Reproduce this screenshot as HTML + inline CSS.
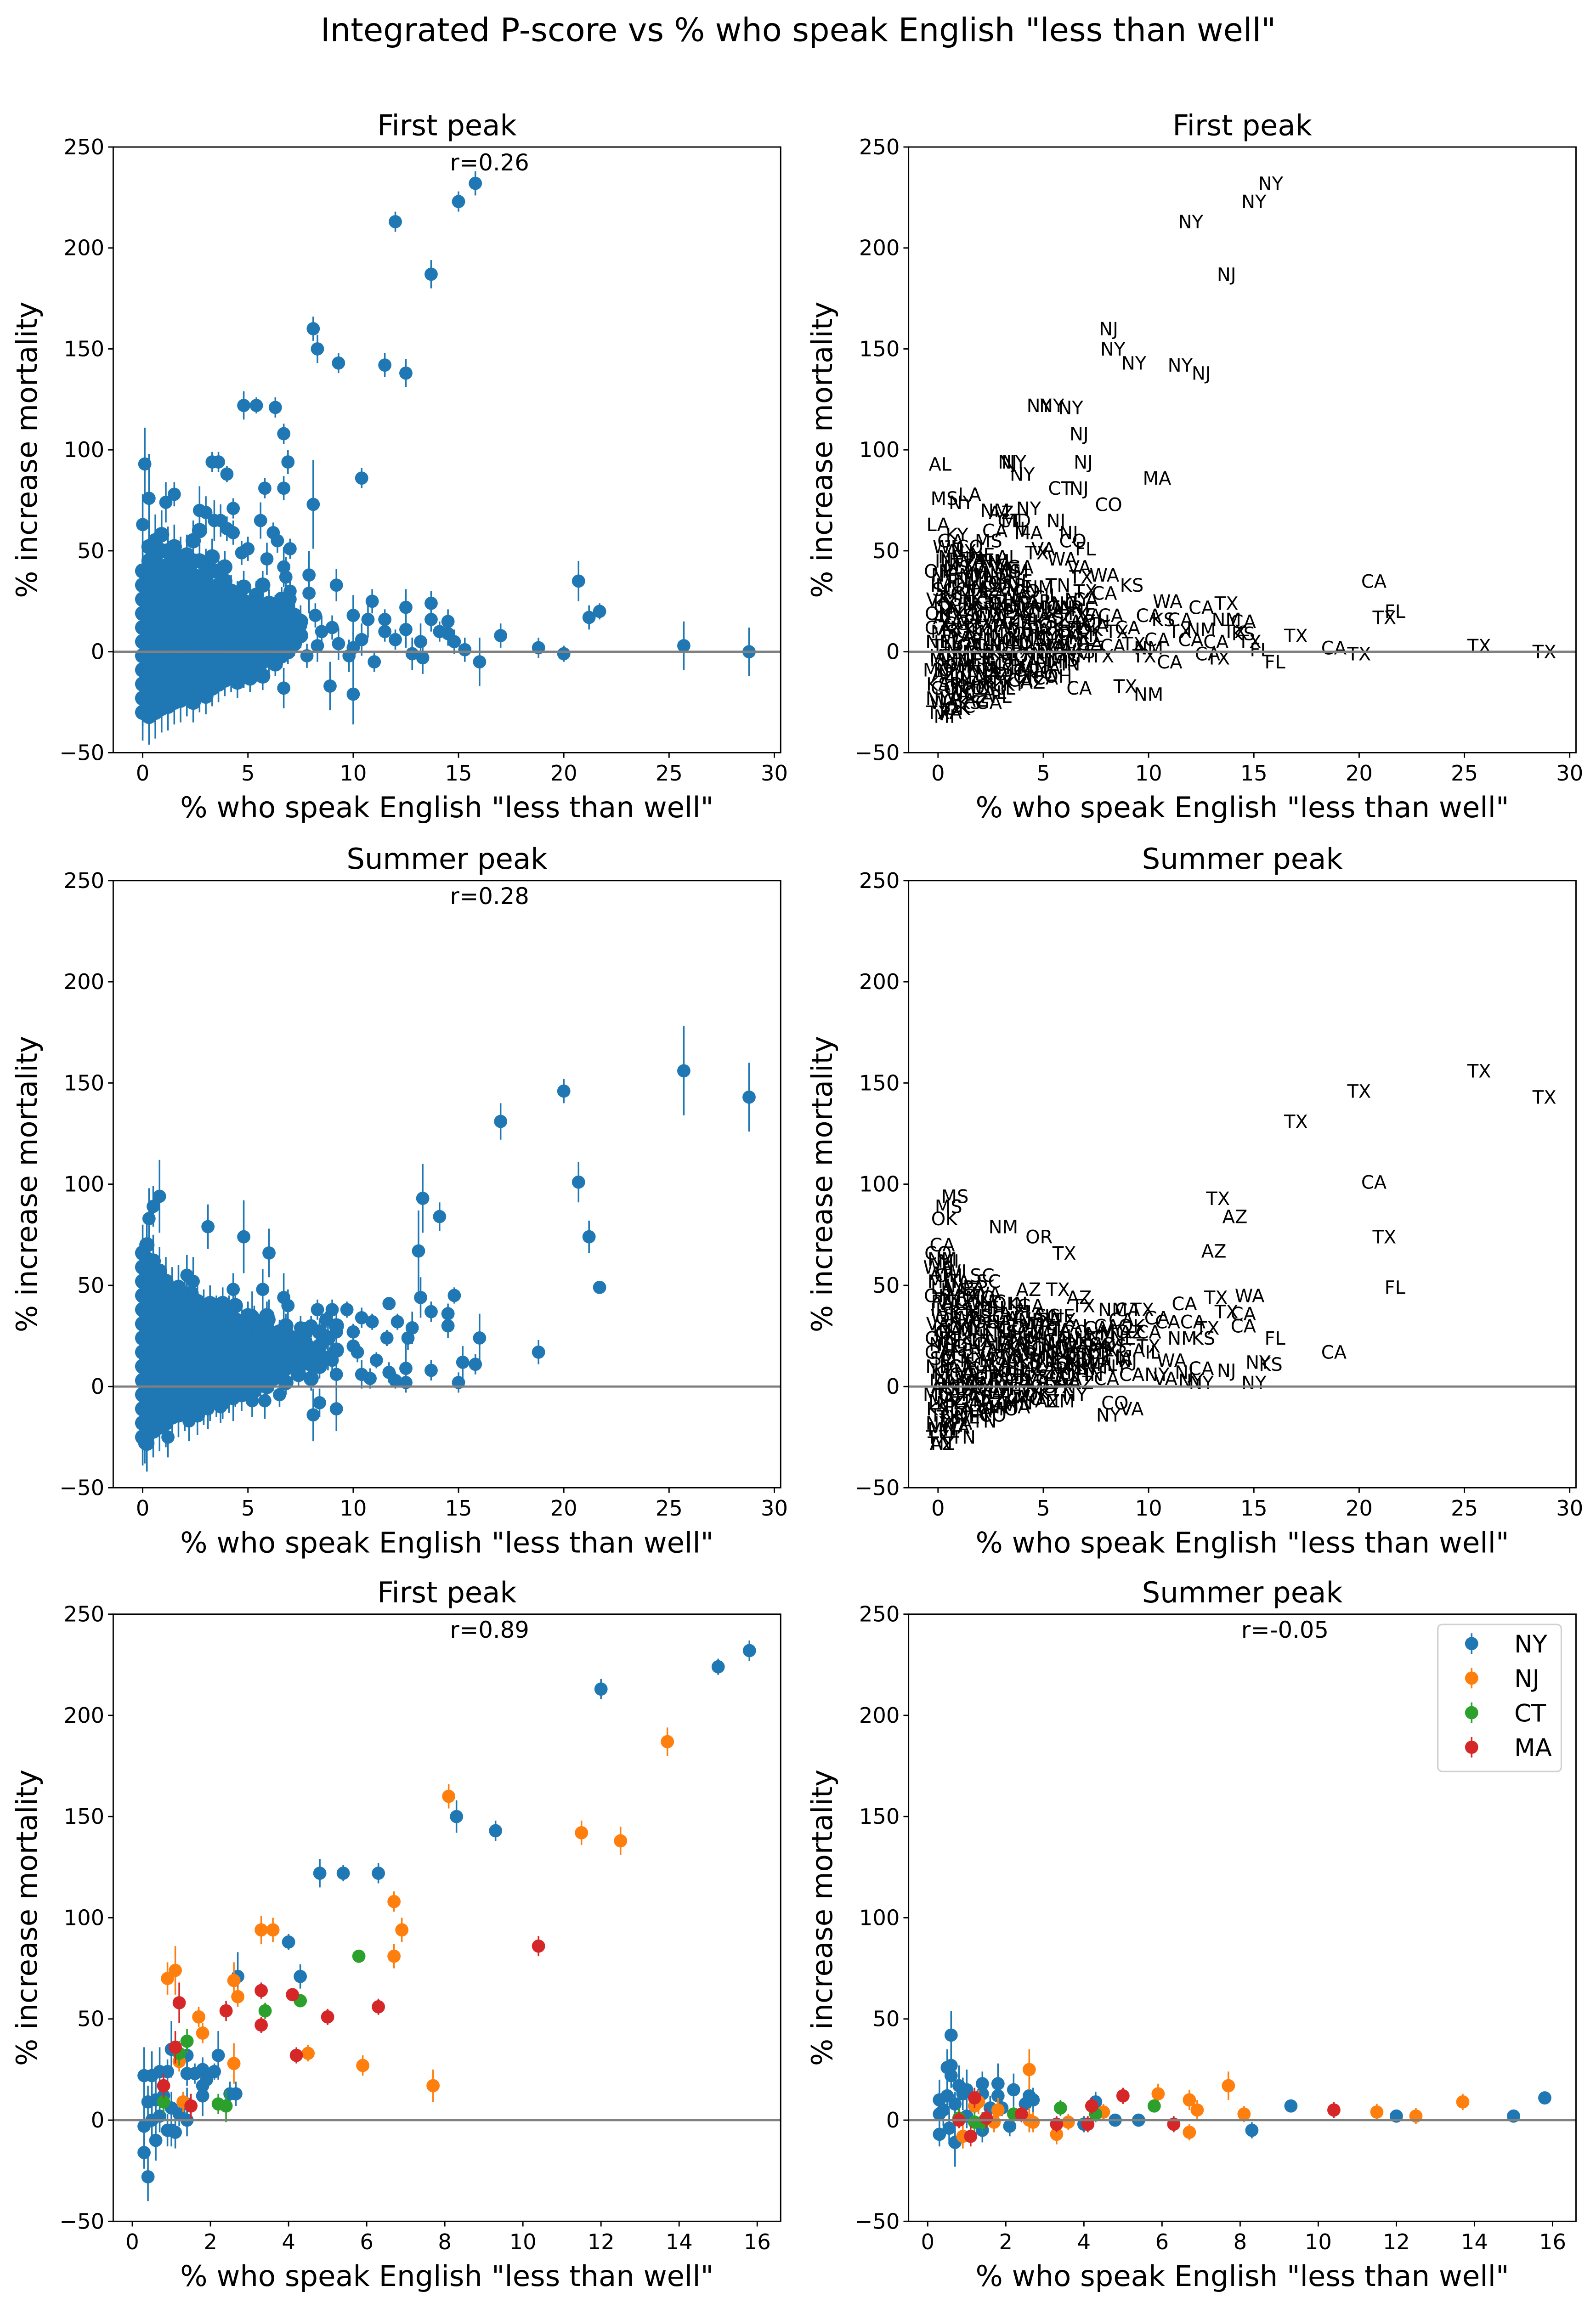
<!DOCTYPE html>
<html><head><meta charset="utf-8">
<style>
html,body{margin:0;padding:0;background:#fff;width:3474px;height:5026px;overflow:hidden;}
svg{position:absolute;left:0;top:0;display:block;font-family:"DejaVu Sans","Liberation Sans",sans-serif;}
</style></head>
<body>
<svg id="fig" width="3474" height="5026" viewBox="0 0 1085.6 1570.6" preserveAspectRatio="none" xmlns="http://www.w3.org/2000/svg" overflow="hidden">
<rect x="0" y="0" width="1085.6" height="1570.6" fill="#fff"/>
<text x="543" y="28" font-size="22" text-anchor="middle">Integrated P-score vs % who speak English "less than well"</text>
</svg>
<script>
// ---------- DATA ----------
const fpX = [15.8,15.0,12.0,13.7,8.1,8.3,9.3,11.5,12.5,4.8,5.4,6.3,6.7,0.1,3.3,3.6,4.0,6.9,10.4,5.8,6.7,8.1,1.5,0.3,1.1,4.3,2.7,3.0,0.0,3.4,3.7,5.6,4.0,4.3,6.2,6.4,5.0,7.0,4.7,5.9,6.7,6.8,7.9,9.2,7.9,7.0,7.0,8.2,10.0,10.9,10.7,11.5,11.5,12.0,12.5,12.5,13.7,13.7,14.5,14.1,14.5,14.8,15.3,13.2,12.8,13.3,11.0,16.0,17.0,18.8,20.0,20.7,21.2,21.7,25.7,28.8,8.9,10.0,6.7,9.3,8.3,9.8,10.4,10.0,9.0,8.5,7.5,7.8];
const fpY = [232,223,213,187,160,150,143,142,138,122,122,121,108,93,94,94,88,94,86,81,81,73,78,76,74,71,70,69,63,65,65,65,61,59,59,55,51,51,49,46,42,37,38,33,29,30,26,18,18,25,16,16,10,6,22,11,24,16,15,10,9,5,1,5,-1,-3,-5,-5,8,2,-1,35,17,20,3,0,-17,-21,-18,4,3,-2,6,2,12,10,13,-2];
const fpErr = [6,5,5,7,6,7,5,6,7,7,4,5,5,18,5,5,4,6,5,5,6,22,6,22,10,5,12,8,15,10,8,9,6,6,5,6,6,5,6,8,10,10,12,8,10,8,8,6,10,6,9,5,5,5,9,9,6,6,6,5,6,6,6,9,8,8,5,12,6,5,4,10,6,4,12,12,12,15,10,8,8,8,8,8,6,8,10,6];
const fpSt = ["NY","NY","NY","NJ","NJ","NY","NY","NY","NJ","NY","NY","NY","NJ","AL","NJ","NY","NY","NJ","MA","CT","NJ","CO","LA","MS","NY","NY","NM","AZ","LA","CT","MD","NJ","IL","MA","NJ","CO","VA","FL","TX","WA","VA","TX","WA","KS","CA","TX","CA","CA","CA","WA","KS","CA","TX","CA","CA","NM","TX","NM","CA","TX","KS","TX","FL","CA","CA","TX","CA","FL","TX","CA","TX","CA","TX","FL","TX","TX","TX","NM","CA","TX","CA","TX","CA","NM","CA","TX","CA","TX"];
const fcX = [0.0,0.3,0.6,0.9,1.2,1.5,1.8,2.1,2.4,2.7,3.0,3.3,3.6,3.9,4.2,4.5,4.8,5.1,5.4,5.7,6.0,6.3,6.6,6.9,7.2,7.5];
const fcY = [
 [-30,-23,-16,-9,-2,5,12,19,26,33,40],
 [-32,-25,-18,-11,-4,3,10,17,24,31,38,45,52],
 [-30,-23,-16,-9,-2,5,12,19,26,33,40,47,55],
 [-28,-21,-14,-7,0,7,14,21,28,35,42,50,58],
 [-27,-20,-13,-6,1,8,15,22,29,36,43,50],
 [-25,-18,-11,-4,3,10,17,24,31,38,45,52],
 [-24,-17,-10,-3,4,11,18,25,32,39,46],
 [-22,-15,-8,-1,6,13,20,27,34,41,48],
 [-25,-18,-11,-4,3,10,17,24,31,38,45,55],
 [-20,-13,-6,1,8,15,22,29,36,45,60],
 [-22,-15,-8,-1,6,13,20,27,34,42],
 [-18,-11,-4,3,10,17,24,31,40,47],
 [-16,-9,-2,5,12,19,26,33,40],
 [-14,-7,0,7,14,21,28,35,42],
 [-12,-5,2,9,16,23,30],
 [-15,-8,-1,6,13,20,27],
 [-10,-3,4,11,18,25,32],
 [-13,-6,1,8,15,22],
 [-8,-1,6,13,20,28],
 [-12,-5,2,9,16,22,33],
 [-4,3,10,17,24],
 [-6,1,8,15,22],
 [-2,5,12,19,26],
 [0,7,14,21],
 [4,11,18],
 [8,15]];
const fcErr = [14,14,13,12,12,11,11,10,10,10,9,9,9,8,8,8,8,7,7,7,7,6,6,6,6,6];

const spX = [25.7,20.0,28.8,17.0,20.7,21.2,21.7,13.3,14.1,13.1,3.1,4.8,6.0,0.8,0.5,0.3,18.8,16.0,15.2,15.8,15.0,13.7,14.5,14.5,14.8,13.7,13.2,12.8,12.6,12.5,12.5,11.7,12.1,11.6,11.1,11.7,12.0,10.4,10.9,10.0,10.0,10.2,9.7,9.0,9.2,8.7,8.4,8.3,7.8,10.4,10.8,9.2,9.0,8.4,8.1,9.2,5.2,5.8,4.3,3.7,3.1,2.2,1.2,0.1,6.5,6.8,6.7,6.9,6.0,5.2,5.7,4.3,2.4,2.1,7.5,8.0];
const spY = [156,146,143,131,101,74,49,93,84,67,79,74,66,94,89,83,17,24,12,11,2,8,36,30,45,37,44,29,24,9,2,41,32,24,13,7,3,34,32,27,20,17,38,38,27,33,15,38,21,6,4,6,13,-8,-14,-11,-7,-7,-6,-10,-11,-17,-25,-28,-4,12,44,40,33,35,48,48,52,55,29,30];
const spErr = [22,6,17,9,10,8,3,17,7,20,11,18,12,18,10,15,6,12,8,5,5,5,5,6,4,5,10,8,6,12,3,2,4,4,4,5,4,5,4,4,5,5,4,5,5,4,4,5,6,7,5,8,8,7,13,11,8,9,11,8,10,10,10,10,6,6,12,8,10,12,10,8,12,10,6,5];
const spSt = ["TX","TX","TX","TX","CA","TX","FL","TX","AZ","AZ","NM","OR","TX","MS","MS","OK","CA","FL","NY","KS","NY","NJ","CA","CA","WA","TX","TX","TX","KS","CA","NY","CA","CA","NM","WA","NJ","NY","CA","CA","CA","TX","IL","TX","CA","AZ","CA","FL","NM","CO","NY","VA","CA","NJ","CO","NY","VA","AZ","NM","MO","MA","MO","TN","TN","TN","NY","NM","AZ","TX","TX","SC","TX","AZ","SC","SC","CA","CA"];
const scX = [0.0,0.2,0.5,0.8,1.1,1.4,1.7,2.0,2.3,2.6,2.9,3.2,3.5,3.8,4.1,4.4,4.7,5.0,5.3,5.6,5.9,6.2,6.5,6.8,7.1,7.4,7.7,8.0,8.4,8.8,9.2];
const scY = [
 [-25,-18,-11,-4,3,10,17,24,31,38,45,52,59,66],
 [-28,-21,-14,-7,0,7,14,21,28,35,42,49,56,63,70],
 [-22,-15,-8,-1,6,13,20,27,34,41,48,55,62],
 [-20,-13,-6,1,8,15,22,29,36,43,50,57],
 [-18,-11,-4,3,10,17,24,31,38,45,52],
 [-15,-8,-1,6,13,20,27,34,41,48],
 [-14,-7,0,7,14,21,28,35,42,49],
 [-12,-5,2,9,16,23,30,37,44],
 [-10,-3,4,11,18,25,32,39,46],
 [-14,-7,0,7,14,21,28,35,42],
 [-10,-3,4,11,18,25,32,39],
 [-8,-1,6,13,20,27,34,41],
 [-6,1,8,15,22,29,36],
 [-8,-1,6,13,20,27,34,41],
 [-5,2,9,16,23,30,37],
 [-2,5,12,19,26,33,40],
 [-4,3,10,17,24,31],
 [0,7,14,21,28,35],
 [-2,5,12,19,26,33],
 [2,9,16,23,30],
 [0,7,14,21,28,35],
 [4,11,18,25],
 [6,13,20,27],
 [2,9,16,23,30],
 [10,17,24],
 [6,13,20],
 [12,19,26],
 [4,11,18],
 [10,20,27],
 [14,24],
 [18,30]];
const scErr = [14,14,13,12,12,11,11,10,10,10,9,9,9,8,8,8,8,7,7,7,7,6,6,6,6,6,6,6,6,6,6];
const cloudStates = ["TX","NY","KS","MO","IA","NE","GA","OK","VA","IL","OH","MI","WA","CO","AZ","MN","TN","MS","AL","KY","SC","NC","IN","WI","PA","LA","AR","NM","CA","FL"];

const n1X = [15.8,15.0,12.0,8.3,9.3,4.8,5.4,6.3,4.0,4.3,2.7,1.0,1.4,2.2,0.3,0.5,0.7,0.9,1.8,1.4,1.6,2.1,1.9,1.8,0.4,0.6,0.8,1.0,1.2,2.5,2.65,1.8,0.3,0.5,0.7,1.0,1.4,0.3,0.6,0.9,1.1,0.4,1.4];
const n1Y = [232,224,213,150,143,122,122,122,88,71,71,35,32,32,22,22,24,24,25,23,23,24,20,17,9,10,12,6,3,13,13,12,-3,0,2,-5,0,-16,-10,-5,-6,-28,8];
const n1E = [5,4,5,8,5,7,4,5,4,6,12,14,7,12,14,12,12,6,6,6,5,4,6,6,8,10,8,8,6,6,6,10,10,10,8,8,8,8,10,8,8,12,8];
const j1X = [8.1,13.7,11.5,12.5,3.3,3.6,6.7,6.9,6.7,0.9,1.1,2.6,2.7,1.7,1.8,1.2,2.6,1.3,4.5,5.9,7.7];
const j1Y = [160,187,142,138,94,94,108,94,81,70,74,69,61,51,43,29,28,9,33,27,17];
const j1E = [6,7,6,7,7,6,5,6,6,8,12,9,5,5,5,5,10,5,4,5,8];
const c1X = [5.8,4.3,3.4,1.4,1.2,0.8,2.2,2.4];
const c1Y = [81,59,54,39,33,9,8,7];
const c1E = [3,3,4,6,6,6,5,8];
const m1X = [10.4,3.3,4.1,2.4,1.2,5.0,6.3,3.3,4.2,1.1,0.8,1.5];
const m1Y = [86,64,62,54,58,51,56,47,32,36,17,7];
const m1E = [5,4,3,5,10,4,4,4,4,8,6,6];
const n2X = [0.6,0.5,0.6,0.6,0.8,0.9,1.0,0.3,0.4,0.5,0.7,0.3,1.4,1.4,1.8,1.8,2.2,2.6,2.5,2.7,1.6,1.4,0.3,0.7,0.55,2.1,4.3,4.0,4.8,5.4,8.3,9.3,12.0,15.0,15.8,1.9,1.0];
const n2Y = [42,26,27,22,17,13,15,10,5,12,8,3,18,13,18,12,15,12,8,10,6,-5,-7,-11,-4,-3,9,-2,0,0,-5,7,2,2,11,6,2];
const n2E = [12,9,8,6,10,8,10,10,8,8,6,8,6,6,10,6,8,10,6,6,6,6,6,12,8,5,5,4,3,3,4,3,3,3,3,4,6];
const j2X = [2.6,1.2,1.3,1.8,1.7,0.9,3.3,3.6,2.7,2.6,4.5,5.9,6.7,6.9,6.7,7.7,8.1,11.5,12.5,13.7];
const j2Y = [25,7,9,5,-1,-8,-7,-1,-1,0,4,13,10,5,-6,17,3,4,2,9];
const j2E = [10,6,6,6,5,6,5,4,5,6,4,5,5,5,4,7,4,4,4,4];
const c2X = [3.4,4.3,5.8,2.2,0.8,1.2,1.4];
const c2Y = [6,3,7,3,1,-1,-1];
const c2E = [4,4,3,4,5,5,5];
const m2X = [5.0,4.2,10.4,1.2,3.3,4.1,6.3,2.4,0.8,1.1,1.5];
const m2Y = [12,7,5,11,-2,-2,-2,3,0,-8,1];
const m2E = [4,4,4,5,4,4,4,4,4,5,5];

const yTicks = [-50,0,50,100,150,200,250];
const xTicksWide = [0,5,10,15,20,25,30];
const xTicksNarrow = [0,2,4,6,8,10,12,14,16];
const stateNames = ["NY","NJ","CT","MA"];
const stateColors = ["#1f77b4","#ff7f0e","#2ca02c","#d62728"];

// ---------- DRAWING ----------
const NS = "http://www.w3.org/2000/svg";
const svg = document.getElementById("fig");
function mk(tag, attrs, parent){ const e=document.createElementNS(NS,tag); for(const k in attrs) e.setAttribute(k,attrs[k]); (parent||svg).appendChild(e); return e; }

const cols = [[77,531],[618,1072]];
const rows = [[100,512],[599,1012],[1098,1511]];

function makeAxes(ci, ri, xmin, xmax, xticks, title, rtext, name){
  const [x0,x1]=cols[ci], [y0,y1]=rows[ri];
  const g = mk("g",{});
  
  
  const sx = v => x0 + (v - xmin)/(xmax - xmin)*(x1 - x0);
  const sy = v => y1 - (v + 50)/300*(y1 - y0);
  const t = mk("text",{x:(x0+x1)/2,y:y0-8,"font-size":19.5,"text-anchor":"middle"},g);
  t.textContent = title;
  
  
  if (rtext){
    const r = mk("text",{x:x0+256,y:y0+16,"font-size":15.5,"text-anchor":"middle"},g);
    r.textContent = rtext;
    
    
  }
  const plot = mk("g",{},g);
  
  
  const zl = mk("line",{x1:x0,x2:x1,y1:sy(0),y2:sy(0),stroke:"#808080","stroke-width":1.5},g);
  
  
  const fr = mk("rect",{x:x0,y:y0,width:x1-x0,height:y1-y0,fill:"none",stroke:"#000","stroke-width":0.9},g);
  
  
  yTicks.forEach(v=>{
    mk("line",{x1:x0-3.5,x2:x0,y1:sy(v),y2:sy(v),stroke:"#000","stroke-width":0.9},g);
    const tl = mk("text",{x:x0-6,y:sy(v)+5,"font-size":14.5,"text-anchor":"end"},g);
    tl.textContent = v<0 ? "\u2212"+Math.abs(v) : String(v);
    
    
  });
  xticks.forEach(v=>{
    mk("line",{x1:sx(v),x2:sx(v),y1:y1,y2:y1+3.5,stroke:"#000","stroke-width":0.9},g);
    const tl = mk("text",{x:sx(v),y:y1+19,"font-size":14.5,"text-anchor":"middle"},g);
    tl.textContent = String(v);
    
    
  });
  const xl = mk("text",{x:(x0+x1)/2,y:y1+44,"font-size":19.5,"text-anchor":"middle"},g);
  xl.textContent = '% who speak English "less than well"';
  
  
  const yx = x0-52, yy=(y0+y1)/2;
  const yl = mk("text",{x:yx,y:yy,"font-size":19.5,"text-anchor":"middle",transform:`rotate(-90 ${yx} ${yy})`},g);
  yl.textContent = '% increase mortality';
  
  
  return {sx, sy, plot, x0, x1, y0, y1};
}

function point(ax, x, y, e, color, r){
  const X=ax.sx(x), Y=ax.sy(y);
  const l = mk("line",{x1:X,x2:X,y1:ax.sy(y-e),y2:ax.sy(y+e),stroke:color,"stroke-width":1.1},ax.plot);
  
  
  const c = mk("circle",{cx:X,cy:Y,r:r||4.5,fill:color},ax.plot);
  
  
}
function label(ax, x, y, s){
  const t = mk("text",{x:ax.sx(x),y:ax.sy(y)+4.5,"font-size":12.5,"text-anchor":"middle"},ax.plot);
  t.textContent = s;
  
  
}
function drawScatter(ax, X, Y, E, color){ X.forEach((x,i)=>point(ax,x,Y[i],E[i],color)); }
function drawCloud(ax, CX, CY, CE, color){ CX.forEach((x,i)=>CY[i].forEach(y=>point(ax,x,y,CE[i],color,5.2))); }
function drawLabels(ax, X, Y, S){ X.forEach((x,i)=>label(ax,x,Y[i],S[i])); }
function drawCloudLabels(ax, CX, CY){ let k=0; CX.forEach((x,i)=>CY[i].forEach(y=>{label(ax,x,y,cloudStates[k%cloudStates.length]);k++;})); }

const B = "#1f77b4";
const a1 = makeAxes(0,0,-1.4,30.3,xTicksWide,"First peak","r=0.26","first-peak-scatter");
drawCloud(a1,fcX,fcY,fcErr,B); drawScatter(a1,fpX,fpY,fpErr,B);
const a2 = makeAxes(1,0,-1.4,30.3,xTicksWide,"First peak",null,"first-peak-labels");
drawCloudLabels(a2,fcX,fcY); drawLabels(a2,fpX,fpY,fpSt);
const a3 = makeAxes(0,1,-1.4,30.3,xTicksWide,"Summer peak","r=0.28","summer-peak-scatter");
drawCloud(a3,scX,scY,scErr,B); drawScatter(a3,spX,spY,spErr,B);
const a4 = makeAxes(1,1,-1.4,30.3,xTicksWide,"Summer peak",null,"summer-peak-labels");
drawCloudLabels(a4,scX,scY); drawLabels(a4,spX,spY,spSt);
const a5 = makeAxes(0,2,-0.49,16.6,xTicksNarrow,"First peak","r=0.89","first-peak-northeast");
drawScatter(a5,n1X,n1Y,n1E,stateColors[0]); drawScatter(a5,j1X,j1Y,j1E,stateColors[1]);
drawScatter(a5,c1X,c1Y,c1E,stateColors[2]); drawScatter(a5,m1X,m1Y,m1E,stateColors[3]);
const a6 = makeAxes(1,2,-0.49,16.6,xTicksNarrow,"Summer peak","r=-0.05","summer-peak-northeast");
drawScatter(a6,n2X,n2Y,n2E,stateColors[0]); drawScatter(a6,j2X,j2Y,j2E,stateColors[1]);
drawScatter(a6,c2X,c2Y,c2E,stateColors[2]); drawScatter(a6,m2X,m2Y,m2E,stateColors[3]);

const lg = mk("g",{});


mk("rect",{x:978,y:1105,width:84,height:100,rx:3,fill:"#fff",stroke:"#d0d0d0","stroke-width":1},lg);
stateNames.forEach((s,i)=>{
  const yy = 1118 + i*23.5;
  const e = mk("g",{},lg);
  
  
  mk("line",{x1:1001,x2:1001,y1:yy-7,y2:yy+7,stroke:stateColors[i],"stroke-width":1.1},e);
  mk("circle",{cx:1001,cy:yy,r:4.5,fill:stateColors[i]},e);
  const t = mk("text",{x:1030,y:yy+6,"font-size":16.5},e);
  t.textContent = s;
});
</script>
</body></html>
